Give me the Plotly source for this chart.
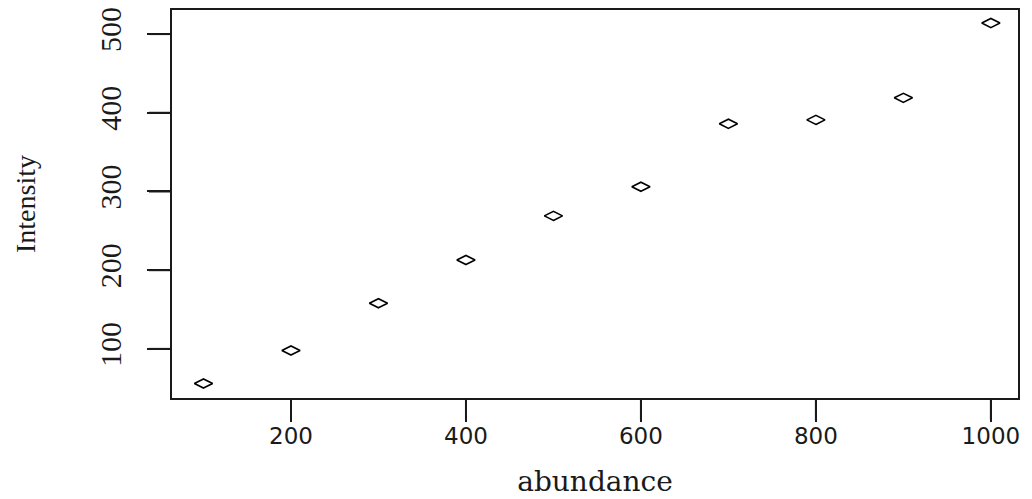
import plotly.graph_objects as go

abundance = [100, 200, 300, 400, 500, 600, 700, 800, 900, 1000]
intensity = [56, 98, 158, 213, 269, 306, 386, 391, 419, 514]
x_ticks = [200, 400, 600, 800, 1000]
y_ticks = [100, 200, 300, 400, 500]

PLOT_H = 499 - 10 - 101
PLOT_W = 1032 - 172 - 14
XTICK_LEN = 22
YTICK_LEN = 23
INK = "#1a1a1a"

fig = go.Figure()
fig.add_trace(go.Scatter(
    x=abundance, y=intensity, mode="markers",
    marker=dict(symbol="diamond-wide-open", size=13, color="black",
                line=dict(width=1.6, color="black")),
    showlegend=False,
))

# tick marks drawn from the tick arrays (outside the box)
for v in x_ticks:
    fig.add_shape(type="line", xref="x", yref="y domain", x0=v, x1=v,
                  y0=0, y1=-XTICK_LEN / PLOT_H, line=dict(color=INK, width=2))
for v in y_ticks:
    fig.add_shape(type="line", xref="x domain", yref="y", y0=v, y1=v,
                  x0=0, x1=-YTICK_LEN / PLOT_W, line=dict(color=INK, width=2))

fig.update_layout(
    template="none",
    width=1032, height=499,
    margin=dict(l=172, r=14, t=10, b=101),
    plot_bgcolor="white", paper_bgcolor="white",
    xaxis=dict(
        range=[64, 1031], tickmode="array", tickvals=x_ticks,
        ticktext=[str(v) for v in x_ticks],
        showgrid=False, zeroline=False, showline=True, mirror=True,
        linecolor=INK, linewidth=2, ticks="outside", ticklen=XTICK_LEN,
        tickwidth=2, tickcolor=INK, ticklabelstandoff=-6,
        tickfont=dict(family="DejaVu Sans", size=23, color=INK),
        title=dict(text="abundance", standoff=24,
                   font=dict(family="DejaVu Serif", size=28, color=INK)),
    ),
    yaxis=dict(
        range=[37.6, 530.6], tickmode="array", tickvals=y_ticks,
        ticktext=[str(v) for v in y_ticks],
        showgrid=False, zeroline=False, showline=True, mirror=True,
        linecolor=INK, linewidth=2, ticks="outside", ticklen=YTICK_LEN,
        tickwidth=2, tickcolor=INK, tickangle=-90,
        ticklabelstandoff=14,
        tickfont=dict(family="Liberation Serif", size=30, color=INK),
        title=dict(text="Intensity", standoff=50,
                   font=dict(family="Liberation Serif", size=28, color=INK)),
    ),
)

fig.write_html("out.html", config={"displayModeBar": False},
               post_script="document.body.style.margin='0';")
